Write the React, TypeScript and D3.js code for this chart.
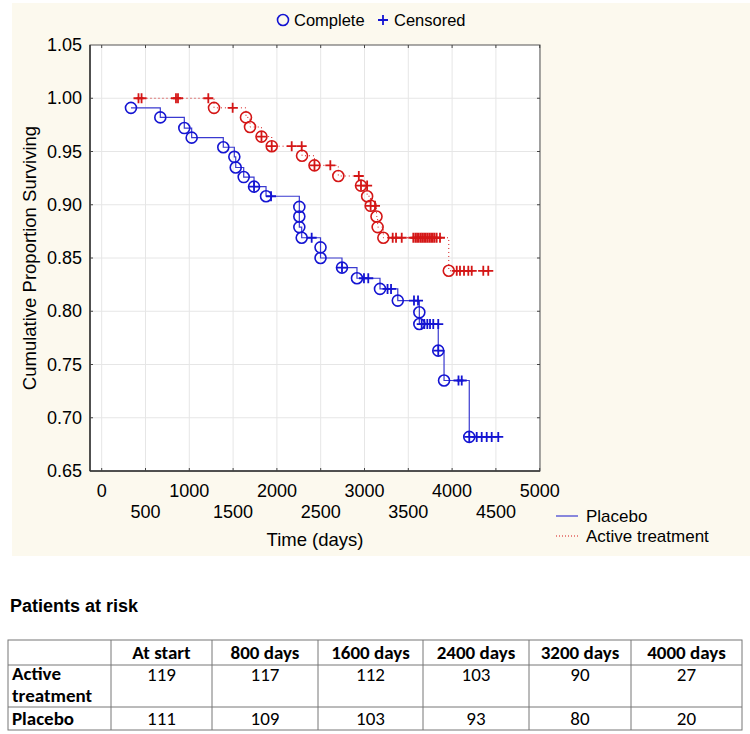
import React from "react";
import * as d3 from "d3";

// ---------- data ----------
// Placebo (blue): time (days), cumulative proportion surviving, status (1 = complete, 0 = censored)
const placeboTime = [334, 669, 943, 1027, 1388, 1514, 1530, 1621, 1739, 1739, 1876, 1933, 2256, 2256, 2256, 2283, 2397, 2498, 2498, 2743, 2743, 2914, 2994, 3043, 3177, 3263, 3303, 3380, 3565, 3611, 3626, 3626, 3653, 3683, 3717, 3748, 3785, 3842, 3842, 3842, 3908, 4073, 4110, 4196, 4196, 4281, 4338, 4395, 4452, 4527];
const placeboSurv = [0.991, 0.982, 0.972, 0.963, 0.954, 0.945, 0.935, 0.926, 0.917, 0.917, 0.908, 0.908, 0.898, 0.889, 0.879, 0.869, 0.869, 0.86, 0.85, 0.841, 0.841, 0.831, 0.831, 0.831, 0.821, 0.821, 0.821, 0.81, 0.81, 0.81, 0.799, 0.788, 0.788, 0.788, 0.788, 0.788, 0.788, 0.788, 0.763, 0.763, 0.735, 0.735, 0.735, 0.682, 0.682, 0.682, 0.682, 0.682, 0.682, 0.682];
const placeboStatus = [1, 1, 1, 1, 1, 1, 1, 1, 1, 0, 1, 0, 1, 1, 1, 1, 0, 1, 1, 1, 0, 1, 0, 0, 1, 0, 0, 1, 0, 0, 1, 1, 0, 0, 0, 0, 0, 0, 1, 0, 1, 0, 0, 1, 0, 0, 0, 0, 0, 0];

// Active treatment (red)
const activeTime = [420, 455, 848, 871, 1217, 1282, 1495, 1647, 1693, 1824, 1824, 1941, 1941, 2169, 2283, 2287, 2429, 2429, 2610, 2701, 2935, 2960, 2960, 3030, 3030, 3070, 3070, 3120, 3137, 3150, 3215, 3322, 3360, 3425, 3557, 3580, 3600, 3620, 3642, 3660, 3680, 3700, 3720, 3740, 3760, 3780, 3800, 3824, 3862, 3962, 4053, 4090, 4136, 4185, 4224, 4356, 4413];
const activeSurv = [1, 1, 1, 1, 1, 0.991, 0.991, 0.982, 0.973, 0.964, 0.964, 0.955, 0.955, 0.955, 0.955, 0.946, 0.937, 0.937, 0.937, 0.927, 0.927, 0.918, 0.918, 0.918, 0.908, 0.899, 0.899, 0.899, 0.889, 0.879, 0.869, 0.869, 0.869, 0.869, 0.869, 0.869, 0.869, 0.869, 0.869, 0.869, 0.869, 0.869, 0.869, 0.869, 0.869, 0.869, 0.869, 0.869, 0.869, 0.838, 0.838, 0.838, 0.838, 0.838, 0.838, 0.838, 0.838];
const activeStatus = [0, 0, 0, 0, 0, 1, 0, 1, 1, 1, 0, 1, 0, 0, 0, 1, 1, 0, 0, 1, 0, 1, 0, 0, 1, 1, 0, 0, 1, 1, 1, 0, 0, 0, 0, 0, 0, 0, 0, 0, 0, 0, 0, 0, 0, 0, 0, 0, 0, 1, 0, 0, 0, 0, 0, 0, 0];

const xTicksTop = [0, 1000, 2000, 3000, 4000, 5000];
const xTicksBottom = [500, 1500, 2500, 3500, 4500];
const yTicks = [0.65, 0.7, 0.75, 0.8, 0.85, 0.9, 0.95, 1.0, 1.05];

const tableHeaders = ["", "At start", "800 days", "1600 days", "2400 days", "3200 days", "4000 days"];
const activeAtRisk = [119, 117, 112, 103, 90, 27];
const placeboAtRisk = [111, 109, 103, 93, 80, 20];

// ---------- styling ----------
const BLUE = "#1414d2";
const BLUE_LINE = "#3a3ad0";
const RED = "#d41616";
const CREAM = "#fcf9ee";
const FONT = "'Liberation Sans', Arial, Helvetica, sans-serif";
const TFONT = "Carlito, Calibri, 'Liberation Sans Narrow', 'Roboto Condensed', 'Open Sans', sans-serif";

const PL = 90, PR = 540, PT = 45, PB = 471;

const x = d3.scaleLinear().domain([0, 5000]).range([101.7, 539.7]);
const y = d3.scaleLinear().domain([0.65, 1.05]).range([PB, PT]);

type Pt = { t: number; s: number; c: number };
const zip = (t: number[], s: number[], c: number[]): Pt[] => t.map((v, i) => ({ t: v, s: s[i], c: c[i] }));
const placebo = zip(placeboTime, placeboSurv, placeboStatus);
const active = zip(activeTime, activeSurv, activeStatus);

const stepLine = d3.line<Pt>().x((d) => x(d.t)).y((d) => y(d.s)).curve(d3.curveStepAfter);

const R = 5.5;
const P = 5;

function Plus({ cx, cy, color }: { cx: number; cy: number; color: string }) {
  return (
    <path d={`M${cx - P},${cy}H${cx + P}M${cx},${cy - P}V${cy + P}`} stroke={color} strokeWidth={1.8} fill="none" />
  );
}

function Markers({ data, color }: { data: Pt[]; color: string }) {
  return (
    <g>
      {data.map((d, i) =>
        d.c === 1 ? (
          <circle key={i} cx={x(d.t)} cy={y(d.s)} r={R} fill="none" stroke={color} strokeWidth={1.6} />
        ) : (
          <Plus key={i} cx={x(d.t)} cy={y(d.s)} color={color} />
        )
      )}
    </g>
  );
}

export default function App() {
  const allXTicks = [...xTicksTop, ...xTicksBottom];
  const colX = [8, 111, 212, 318, 423, 529, 631, 742];
  const rowY = [640, 665, 707, 730];
  return (
    <svg width={750} height={734} style={{ position: "absolute", left: 0, top: 0, background: "#ffffff" }}>
      <rect x={12} y={3} width={738} height={553} fill={CREAM} />
      {/* top legend */}
      <g fontFamily={FONT} fontSize={16.5} fill="#000">
        <circle cx={283} cy={20} r={R} fill="none" stroke={BLUE} strokeWidth={1.6} />
        <text x={294} y={26}>Complete</text>
        <Plus cx={383} cy={20} color={BLUE} />
        <text x={394} y={26}>Censored</text>
      </g>
      {/* plot area */}
      <rect x={PL} y={PT} width={PR - PL} height={PB - PT} fill="#fff" />
      <g stroke="#e6e6e6" strokeWidth={1}>
        {allXTicks.map((t) => (
          <line key={"gx" + t} x1={x(t)} x2={x(t)} y1={PT} y2={PB} />
        ))}
        {yTicks.slice(1, -1).map((v) => (
          <line key={"gy" + v} x1={PL} x2={PR} y1={y(v)} y2={y(v)} />
        ))}
      </g>
      {/* curves */}
      <path d={stepLine(placebo) || ""} fill="none" stroke={BLUE_LINE} strokeWidth={1.2} />
      <path d={stepLine(active) || ""} fill="none" stroke={RED} strokeWidth={1} strokeDasharray="1,3" />
      <Markers data={active} color={RED} />
      <Markers data={placebo} color={BLUE} />
      {/* frame and ticks */}
      <rect x={PL} y={PT} width={PR - PL} height={PB - PT} fill="none" stroke="#555" strokeWidth={1} />
      <line x1={PL} x2={PL} y1={PT} y2={PB} stroke="#333" strokeWidth={1.5} />
      <line x1={PL} x2={PR} y1={PB} y2={PB} stroke="#333" strokeWidth={1.5} />
      <g stroke="#444" strokeWidth={1}>
        {allXTicks.map((t) => (
          <g key={"tx" + t}>
            <line x1={x(t)} x2={x(t)} y1={PB} y2={PB - 3} />
            <line x1={x(t)} x2={x(t)} y1={PT} y2={PT + 3} />
          </g>
        ))}
        {yTicks.slice(1, -1).map((v) => (
          <g key={"ty" + v}>
            <line x1={PL} x2={PL + 3} y1={y(v)} y2={y(v)} />
            <line x1={PR} x2={PR - 3} y1={y(v)} y2={y(v)} />
          </g>
        ))}
      </g>
      {/* tick labels */}
      <g fontFamily={FONT} fontSize={18} fill="#000">
        {yTicks.map((v) => (
          <text key={"ly" + v} x={82} y={y(v) + 6} textAnchor="end">
            {v.toFixed(2)}
          </text>
        ))}
        {xTicksTop.map((t) => (
          <text key={"lxt" + t} x={x(t)} y={497} textAnchor="middle">
            {t}
          </text>
        ))}
        {xTicksBottom.map((t) => (
          <text key={"lxb" + t} x={x(t)} y={518} textAnchor="middle">
            {t}
          </text>
        ))}
      </g>
      <g fontFamily={FONT} fontSize={18.5} fill="#000">
        <text x={315} y={546} textAnchor="middle">Time (days)</text>
        <text transform={`translate(36,${(PT + PB) / 2}) rotate(-90)`} textAnchor="middle">
          Cumulative Proportion Surviving
        </text>
      </g>
      {/* bottom-right legend */}
      <g fontFamily={FONT} fontSize={17} fill="#000">
        <line x1={556} x2={578} y1={516} y2={516} stroke={BLUE_LINE} strokeWidth={1.2} />
        <text x={586} y={522}>Placebo</text>
        <line x1={556} x2={578} y1={536} y2={536} stroke={RED} strokeWidth={1} strokeDasharray="1,2" />
        <text x={586} y={542}>Active treatment</text>
      </g>
      {/* table */}
      <text x={10} y={612} fontFamily={FONT} fontSize={18} fontWeight="bold">Patients at risk</text>
      <g stroke="#777" strokeWidth={1} fill="none">
        <rect x={colX[0]} y={rowY[0]} width={colX[7] - colX[0]} height={rowY[3] - rowY[0]} />
        {colX.slice(1, -1).map((cx) => (
          <line key={"c" + cx} x1={cx} x2={cx} y1={rowY[0]} y2={rowY[3]} />
        ))}
        {rowY.slice(1, -1).map((ry) => (
          <line key={"r" + ry} x1={colX[0]} x2={colX[7]} y1={ry} y2={ry} />
        ))}
      </g>
      <g fontFamily={TFONT} fontSize={19} fill="#000">
        {tableHeaders.map((h, i) =>
          i === 0 ? null : (
            <text key={"h" + i} x={(colX[i] + colX[i + 1]) / 2} y={659} textAnchor="middle" fontWeight="bold">
              {h}
            </text>
          )
        )}
        <text x={12} y={680} fontWeight="bold">Active</text>
        <text x={12} y={702} fontWeight="bold">treatment</text>
        <text x={12} y={725} fontWeight="bold">Placebo</text>
        {activeAtRisk.map((v, i) => (
          <text key={"a" + i} x={(colX[i + 1] + colX[i + 2]) / 2} y={681} textAnchor="middle">
            {v}
          </text>
        ))}
        {placeboAtRisk.map((v, i) => (
          <text key={"p" + i} x={(colX[i + 1] + colX[i + 2]) / 2} y={725} textAnchor="middle">
            {v}
          </text>
        ))}
      </g>
    </svg>
  );
}
